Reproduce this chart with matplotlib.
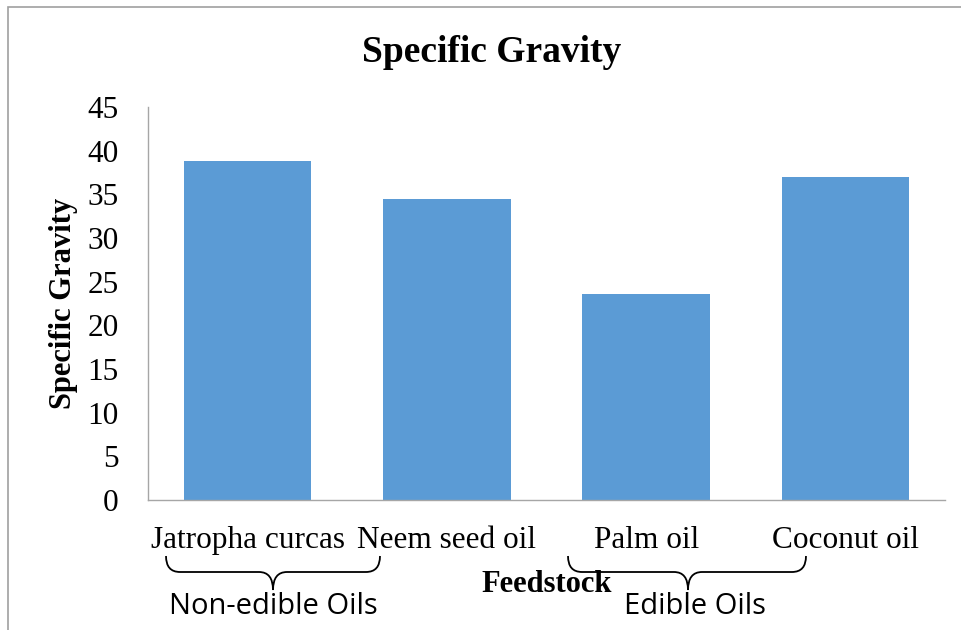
import matplotlib
matplotlib.use("Agg")
import matplotlib.pyplot as plt
from matplotlib.path import Path
from matplotlib.patches import PathPatch, Rectangle
import matplotlib.transforms as mtransforms

categories = ["Jatropha curcas", "Neem seed oil", "Palm oil", "Coconut oil"]
values = [38.8, 34.5, 23.6, 37.0]
yticks = [0, 5, 10, 15, 20, 25, 30, 35, 40, 45]
groups = ["Non-edible Oils", "Edible Oils"]

W, H = 962, 630
fig = plt.figure(figsize=(W / 100, H / 100), dpi=100)
serif = "Liberation Serif"

ax = fig.add_axes([148 / W, 1 - 500 / H, (945 - 148) / W, (500 - 107) / H])
x = list(range(len(categories)))
ax.bar(x, values, width=0.64, color="#5B9BD5", zorder=2)
ax.set_xlim(-0.5, len(categories) - 0.5)
ax.set_ylim(0, 45)
ax.set_yticks(yticks)
ax.set_yticklabels([str(t) for t in yticks], fontfamily=serif, fontsize=22.5)
ax.set_xticks(x)
ax.set_xticklabels(categories, fontfamily=serif, fontsize=22.5)
ax.tick_params(axis="y", length=0, pad=21)
ax.tick_params(axis="x", length=0, pad=19)
for s in ["top", "right"]:
    ax.spines[s].set_visible(False)
for s in ["left", "bottom"]:
    ax.spines[s].set_color("#a6a6a6")
    ax.spines[s].set_linewidth(1.0)

fig.text(492 / W, 1 - 53 / H, "Specific Gravity", fontfamily=serif, fontsize=27,
         fontweight="bold", ha="center", va="center")
fig.text(64 / W, 1 - 303 / H, "Specific Gravity", fontfamily=serif, fontsize=22,
         fontweight="bold", ha="center", va="center", rotation=90)
fig.text(547 / W, 1 - 584 / H, "Feedstock", fontfamily=serif, fontsize=22,
         fontweight="bold", ha="center", va="center")

# figure border
fig.patches.append(Rectangle((8 / W, -0.1), 1.2, 1 - 7 / H + 0.1, transform=fig.transFigure,
                             fill=False, edgecolor="#a0a0a0", linewidth=1.2))

# braces in pixel coordinates (figure)
pix = mtransforms.Affine2D().scale(1 / W, -1 / H).translate(0, 1) + fig.transFigure

def brace(x0, x1, xm, ytop=556, ymid=572, ytip=590):
    r = 14
    verts = [(x0, ytop), (x0, ymid), (x0 + r, ymid),
             (xm - r, ymid), (xm, ymid), (xm, ytip),
             (xm, ymid), (xm + r, ymid),
             (x1 - r, ymid), (x1, ymid), (x1, ytop)]
    codes = [Path.MOVETO, Path.CURVE3, Path.CURVE3,
             Path.LINETO, Path.CURVE3, Path.CURVE3,
             Path.CURVE3, Path.CURVE3,
             Path.LINETO, Path.CURVE3, Path.CURVE3]
    fig.patches.append(PathPatch(Path(verts, codes), transform=pix, fill=False,
                                 edgecolor="black", linewidth=1.3))

brace(166, 380, 273)
brace(568, 806, 688)

fig.text(273 / W, 1 - 607 / H, groups[0], fontfamily="Open Sans", fontsize=21,
         ha="center", va="center")
fig.text(695 / W, 1 - 607 / H, groups[1], fontfamily="Open Sans", fontsize=21,
         ha="center", va="center")

fig.savefig("out.png", dpi=100)
